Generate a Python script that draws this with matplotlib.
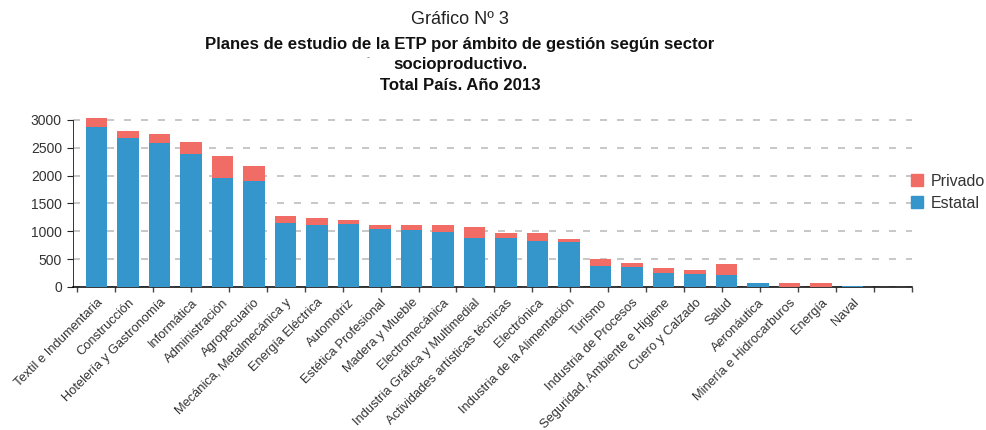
import matplotlib
matplotlib.use('Agg')
import matplotlib.pyplot as plt
from matplotlib.patches import Patch
import numpy as np

categories = [
    "Textil e Indumentaria", "Construcción", "Hotelería y Gastronomía", "Informática",
    "Administración", "Agropecuario", "Mecánica, Metalmecánica y", "Energía Eléctrica",
    "Automotriz", "Estética Profesional", "Madera y Mueble", "Electromecánica",
    "Industria Gráfica y Multimedial", "Actividades artísticas técnicas", "Electrónica",
    "Industria de la Alimentación", "Turismo", "Industria de Procesos",
    "Seguridad, Ambiente e Higiene", "Cuero y Calzado", "Salud", "Aeronáutica",
    "Minería e Hidrocarburos", "Energía", "Naval",
]
estatal = [2880, 2670, 2590, 2395, 1955, 1900, 1155, 1120, 1135, 1045, 1025, 990,
           875, 875, 825, 805, 375, 355, 245, 225, 210, 75, 0, 0, 20]
privado = [160, 130, 150, 210, 400, 270, 115, 115, 75, 75, 95, 130,
           205, 95, 140, 55, 130, 75, 95, 75, 205, 0, 75, 75, 0]
y_ticks = [0, 500, 1000, 1500, 2000, 2500, 3000]

BLUE = '#3596CB'
RED = '#F06C64'
TXT = '#333333'

plt.rcParams['font.family'] = ['Liberation Sans', 'DejaVu Sans']

W, H = 987, 430
fig = plt.figure(figsize=(W / 100, H / 100), dpi=100)
ax = fig.add_axes([73 / W, 1 - 287 / H, (912 - 73) / W, (287 - 117.2) / H])

x = np.arange(len(categories))
ax.bar(x, estatal, width=0.67, color=BLUE, zorder=3)
ax.bar(x, privado, bottom=estatal, width=0.67, color=RED, zorder=3)

xlim = (-0.746, 25.889)
ax.set_xlim(*xlim)
ax.set_ylim(0, 3050)

ax.set_yticks(y_ticks)
ax.set_yticklabels([str(v) for v in y_ticks], fontsize=10, color=TXT)
ax.yaxis.grid(True, linestyle=(0, (4.2, 6.0)), color='#bdbdbd', linewidth=1.2, zorder=0)
ax.tick_params(axis='y', length=4, width=0.8, color='#222222', pad=4)

ax.set_xticks(x)
ax.set_xticklabels(categories, rotation=45, ha='right', rotation_mode='anchor',
                   fontsize=9.3, color=TXT)
ax.tick_params(axis='x', which='major', length=0, pad=7)
ax.set_xticks(np.linspace(xlim[0] + 0.126, xlim[1] - 0.005, 23), minor=True)
ax.tick_params(axis='x', which='minor', length=3.5, width=1, color='#444444')

for s in ('top', 'right'):
    ax.spines[s].set_visible(False)
ax.spines['left'].set_color('#333333')
ax.spines['left'].set_linewidth(0.7)
ax.spines['left'].set_bounds(0, 3000)
ax.spines['bottom'].set_color('black')
ax.spines['bottom'].set_linewidth(1.1)

handles = [Patch(color=RED, label='Privado'), Patch(color=BLUE, label='Estatal')]
fig.legend(handles=handles, loc='upper left', bbox_to_anchor=(906 / W, 1 - 169 / H),
           frameon=False, fontsize=11.5, handlelength=0.78, handleheight=0.78,
           handletextpad=0.5, labelspacing=0.45, borderaxespad=0, borderpad=0.3,
           labelcolor=TXT)

narrow = ['Liberation Sans Narrow', 'Liberation Sans', 'DejaVu Sans']
cx = 460 / W
fig.text(cx, 1 - 20 / H, 'Gráfico Nº 3', ha='center', va='center', fontsize=13,
         family=narrow, color='#222222')
fig.text(cx, 1 - 44 / H, 'Planes de estudio de la ETP por ámbito de gestión según sector',
         ha='center', va='center', fontsize=12.1, family=narrow, weight='bold', color='#111111')
fig.text(368 / W, 1 - 58 / H, '-', ha='center', va='center', fontsize=6, color='#555555')
fig.text(cx, 1 - 65 / H, 'socioproductivo.', ha='center', va='center', fontsize=12.1,
         family=narrow, weight='bold', color='#111111')
fig.text(cx, 1 - 86 / H, 'Total País. Año 2013', ha='center', va='center', fontsize=12.1,
         family=narrow, weight='bold', color='#111111')

fig.savefig('out.png', dpi=100)
